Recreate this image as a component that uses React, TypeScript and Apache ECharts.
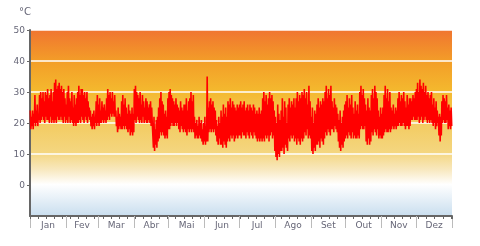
import React, { useEffect, useRef } from 'react';
import * as echarts from 'echarts';

const months = ['Jan', 'Fev', 'Mar', 'Abr', 'Mai', 'Jun', 'Jul', 'Ago', 'Set', 'Out', 'Nov', 'Dez'];
const monthStarts = [0, 31, 59, 90, 120, 151, 181, 212, 243, 273, 304, 334, 365];
const yTickValues = [0, 10, 20, 30, 40, 50];
const unitLabel = '°C';

// daily highs / lows (°C)
const janHi = [24, 22, 24, 23, 29, 24, 26, 23, 29, 30, 28, 30, 27, 30, 29, 31, 28, 29, 31, 27, 30, 33, 34, 31, 32, 33, 31, 32, 30, 31, 28];
const janLo = [18, 19, 18, 20, 19, 20, 19, 21, 20, 21, 22, 21, 20, 22, 21, 21, 20, 22, 20, 21, 20, 21, 20, 22, 21, 21, 22, 21, 20, 22, 20];
const fevHi = [26, 30, 32, 28, 27, 30, 25, 29, 26, 28, 30, 32, 29, 31, 31, 29, 30, 28, 30, 27, 25, 24, 22, 23, 24, 22, 27, 29];
const fevLo = [21, 20, 22, 20, 21, 20, 19, 20, 19, 20, 20, 21, 20, 22, 21, 20, 22, 21, 20, 22, 21, 19, 18, 19, 18, 20, 19, 20];
const marHi = [26, 28, 24, 27, 25, 26, 24, 28, 31, 29, 30, 28, 30, 27, 29, 24, 22, 25, 23, 22, 27, 29, 26, 28, 25, 23, 26, 24, 23, 25, 23];
const marLo = [19, 20, 20, 21, 20, 21, 20, 21, 22, 21, 23, 22, 23, 22, 22, 19, 17, 18, 19, 18, 18, 19, 18, 19, 18, 17, 18, 16, 17, 16, 17];
const abrHi = [31, 32, 30, 29, 28, 30, 26, 29, 27, 25, 28, 27, 25, 26, 27, 25, 20, 22, 18, 21, 22, 25, 28, 30, 27, 26, 23, 24, 22, 28];
const abrLo = [21, 20, 22, 21, 20, 21, 20, 22, 20, 21, 20, 20, 21, 20, 19, 20, 12, 11, 13, 12, 14, 15, 17, 16, 17, 16, 15, 16, 15, 18];
const maiHi = [30, 31, 29, 28, 27, 26, 28, 26, 25, 24, 27, 25, 24, 26, 26, 28, 24, 27, 28, 30, 27, 29, 22, 20, 21, 19, 22, 20, 21, 18, 20];
const maiLo = [18, 19, 20, 19, 19, 20, 19, 20, 18, 17, 19, 18, 17, 18, 17, 16, 18, 17, 18, 17, 18, 17, 15, 16, 15, 15, 16, 15, 14, 13, 14];
const junHi = [22, 19, 35, 25, 27, 28, 26, 27, 25, 24, 21, 19, 22, 20, 24, 22, 26, 23, 25, 22, 27, 26, 28, 25, 27, 26, 25, 24, 26, 25];
const junLo = [13, 14, 14, 17, 18, 17, 18, 17, 18, 16, 14, 13, 15, 13, 13, 12, 14, 13, 12, 14, 15, 14, 16, 15, 16, 14, 15, 16, 15, 16];
const julHi = [26, 27, 25, 26, 27, 24, 25, 26, 24, 26, 25, 24, 26, 25, 23, 24, 23, 25, 23, 24, 28, 30, 27, 29, 26, 28, 30, 28, 29, 27, 24];
const julLo = [16, 15, 17, 16, 16, 15, 17, 16, 15, 17, 16, 15, 17, 16, 15, 14, 15, 14, 15, 14, 15, 14, 16, 15, 16, 14, 16, 17, 15, 16, 11];
const agoHi = [22, 20, 26, 23, 21, 24, 28, 22, 27, 25, 20, 26, 28, 25, 27, 26, 28, 25, 28, 30, 27, 29, 28, 30, 29, 31, 28, 30, 26, 32, 27];
const agoLo = [9, 8, 10, 9, 11, 11, 12, 10, 13, 12, 11, 15, 14, 16, 15, 16, 14, 15, 13, 15, 14, 13, 15, 14, 15, 17, 16, 18, 15, 16, 15];
const setHi = [22, 25, 20, 24, 23, 26, 28, 25, 27, 26, 28, 27, 30, 32, 28, 31, 29, 32, 27, 25, 28, 26, 25, 23, 21, 24, 20, 22, 24, 26];
const setLo = [11, 10, 12, 11, 13, 13, 14, 12, 15, 14, 13, 15, 17, 16, 18, 17, 16, 18, 18, 17, 19, 18, 17, 14, 12, 11, 13, 12, 14, 15];
const outHi = [27, 29, 25, 28, 26, 29, 25, 23, 27, 24, 26, 23, 30, 32, 29, 31, 28, 26, 24, 28, 25, 24, 29, 31, 28, 32, 30, 28, 24, 22, 25];
const outLo = [16, 15, 17, 16, 15, 17, 15, 16, 15, 15, 16, 15, 18, 19, 18, 18, 19, 14, 13, 15, 13, 14, 17, 16, 18, 17, 16, 18, 15, 16, 15];
const novHi = [23, 25, 29, 32, 28, 31, 27, 30, 25, 24, 26, 23, 25, 24, 28, 30, 27, 29, 28, 30, 27, 25, 29, 26, 28, 28, 27, 29, 28, 30];
const novLo = [15, 16, 17, 18, 17, 17, 18, 17, 18, 19, 18, 19, 18, 19, 19, 20, 19, 19, 20, 19, 18, 19, 19, 18, 19, 21, 21, 22, 21, 21];
const dezHi = [31, 33, 30, 34, 32, 31, 33, 30, 32, 29, 30, 28, 29, 30, 26, 28, 25, 27, 24, 22, 23, 22, 27, 29, 28, 27, 29, 25, 26, 24, 25];
const dezLo = [21, 22, 20, 21, 22, 20, 21, 22, 21, 20, 21, 20, 21, 20, 19, 20, 18, 19, 20, 16, 14, 16, 20, 21, 20, 20, 21, 18, 19, 18, 19];

const highs = [janHi, fevHi, marHi, abrHi, maiHi, junHi, julHi, agoHi, setHi, outHi, novHi, dezHi];
const lows = [janLo, fevLo, marLo, abrLo, maiLo, junLo, julLo, agoLo, setLo, outLo, novLo, dezLo];

const FONT = 'DejaVu Sans';
const LABEL_COLOR = '#666677';

export default function App() {
  const ref = useRef<HTMLDivElement>(null);

  useEffect(() => {
    const chart = echarts.init(ref.current as HTMLDivElement, null, { renderer: 'svg' });

    const data: number[][] = [];
    highs.forEach((h, m) => {
      h.forEach((v, i) => {
        const d = monthStarts[m] + i;
        data.push([d + 0.25, v]);
        data.push([d + 0.75, lows[m][i]]);
      });
    });
    const mids = months.map((_, i) => (monthStarts[i] + monthStarts[i + 1]) / 2);
    const monthFor = (v: number) => {
      let best = 0;
      mids.forEach((m, i) => {
        if (Math.abs(m - v) < Math.abs(mids[best] - v)) best = i;
      });
      return months[best];
    };

    chart.setOption({
      animation: false,
      grid: {
        left: 30,
        right: 28,
        top: 30,
        bottom: 30,
        show: true,
        borderWidth: 0,
        backgroundColor: new echarts.graphic.LinearGradient(0, 0, 0, 1, [
          { offset: 0, color: '#F07530' },
          { offset: 0.17, color: '#F39E28' },
          { offset: 0.33, color: '#F4B92E' },
          { offset: 0.5, color: '#F3CB60' },
          { offset: 0.66, color: '#F4D680' },
          { offset: 0.75, color: '#F8E8BE' },
          { offset: 0.83, color: '#FFFFFF' },
          { offset: 1, color: '#C9DEEF' },
        ]),
      },
      graphic: [
        {
          type: 'text',
          left: 19,
          top: 6,
          style: { text: unitLabel, font: `10px "${FONT}"`, fill: LABEL_COLOR },
        },
      ],
      xAxis: [
        {
          type: 'value',
          min: 0,
          max: 365,
          position: 'bottom',
          axisLine: { show: true, onZero: false, lineStyle: { color: '#666666', width: 2 } },
          axisTick: {
            show: true,
            customValues: monthStarts,
            length: 12,
            lineStyle: { color: '#BBBBBB', width: 1 },
          },
          axisLabel: {
            customValues: mids,
            formatter: (v: number) => monthFor(v),
            color: LABEL_COLOR,
            fontFamily: FONT,
            fontSize: 9,
            margin: 4,
          },
          splitLine: { show: false },
        },
        {
          type: 'value',
          min: 0,
          max: 365,
          interval: 7,
          position: 'bottom',
          axisLine: { show: false, onZero: false },
          axisTick: { show: true, length: 3, lineStyle: { color: '#666666', width: 1 } },
          axisLabel: { show: false },
          splitLine: { show: false },
        },
      ],
      yAxis: {
        type: 'value',
        min: -10,
        max: 50,
        interval: 10,
        axisLine: { show: true, onZero: false, lineStyle: { color: '#666666', width: 2 } },
        axisTick: { show: true, length: 3, customValues: yTickValues, lineStyle: { color: '#666666' } },
        axisLabel: {
          formatter: (v: number) => (v === -10 ? '' : String(v)),
          color: LABEL_COLOR,
          fontFamily: FONT,
          fontSize: 9,
          margin: 5,
        },
        splitLine: {
          show: true,
          lineStyle: {
            color: ['rgba(0,0,0,0)', '#FFFFFF', '#FFFFFF', '#FFFFFF', '#FFFFFF', '#FFFFFF', 'rgba(0,0,0,0)'],
            width: 1.5,
          },
        },
      },
      series: [
        {
          type: 'line',
          xAxisIndex: 0,
          data,
          showSymbol: false,
          symbol: 'none',
          lineStyle: { color: '#FF0000', width: 1.6 },
          z: 5,
        },
      ],
    });

    return () => chart.dispose();
  }, []);

  return <div ref={ref} style={{ position: 'fixed', left: 0, top: 0, width: 480, height: 246 }} />;
}
